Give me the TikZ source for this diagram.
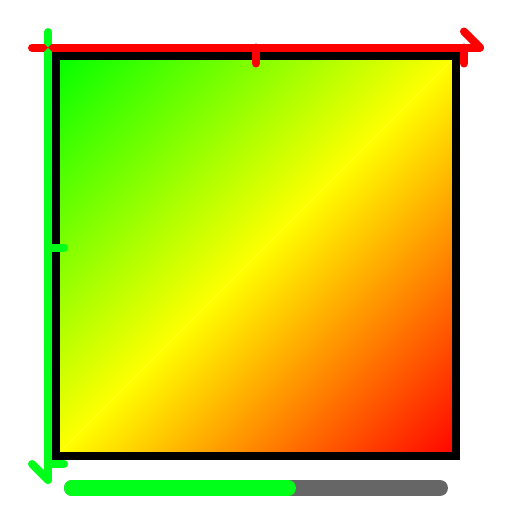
\documentclass[tikz,border=0pt]{standalone}
\usepackage{tikz}
\definecolor{axgreen}{HTML}{00FF19}
\definecolor{axred}{HTML}{FF0000}
\definecolor{gradgreen}{HTML}{00FF00}
\definecolor{gradyellow}{HTML}{FFFF00}
\definecolor{gradred}{HTML}{FF0000}
\definecolor{bargray}{HTML}{666666}
\tikzset{
  redaxis/.style={draw=axred, line width=0.16cm, line cap=round},
  greenaxis/.style={draw=axgreen, line width=0.16cm, line cap=round},
  frame/.style={draw=black, line width=0.16cm},
  barline/.style={line width=0.32cm, line cap=round}
}
\begin{document}
\begin{tikzpicture}[x=0.02cm, y=-0.02cm]
\useasboundingbox (0,0) rectangle (512,512);
% gradient square
\begin{scope}
  \clip (56,56) rectangle (456,456);
  \shade[transform canvas={rotate around={-45:(256,256)}}, left color=gradgreen, right color=gradyellow] (-29,-29) rectangle (256,541);
  \shade[transform canvas={rotate around={-45:(256,256)}}, left color=gradyellow, right color=gradred] (256,-29) rectangle (541,541);
\end{scope}
\draw[frame] (56,56) rectangle (456,456);
% coordinates
\coordinate (xo) at (32,47.5);
\coordinate (xe) at (480,47.5);
\coordinate (xb) at (464,31.5);
\coordinate (xt1a) at (256,47.5);
\coordinate (xt1b) at (256,63.5);
\coordinate (xt2a) at (464,47.5);
\coordinate (xt2b) at (464,63.5);
\coordinate (yo) at (48,32);
\coordinate (ye) at (48,480);
\coordinate (yb) at (32,464);
\coordinate (yt1a) at (48,247.5);
\coordinate (yt1b) at (64,247.5);
\coordinate (yt2a) at (48,464);
\coordinate (yt2b) at (64,464);
% axes
\draw[redaxis] (xo) -- (xe);
\draw[redaxis] (xb) -- (xe);
\draw[redaxis] (xt1a) -- (xt1b);
\draw[redaxis] (xt2a) -- (xt2b);
\draw[greenaxis] (yo) -- (ye);
\draw[greenaxis] (yb) -- (ye);
\draw[greenaxis] (yt1a) -- (yt1b);
\draw[greenaxis] (yt2a) -- (yt2b);
% crossing
\fill[axgreen] (44,43.5) rectangle (52,51.5);
\fill[axred] (44,43.5) -- (48,47.5) -- (44,51.5) -- cycle;
\fill[axred] (52,43.5) -- (48,47.5) -- (52,51.5) -- cycle;
% progress bar
\coordinate (ps) at (72,488);
\coordinate (pe) at (440,488);
\coordinate (pg) at (288,488);
\draw[barline, bargray] (ps) -- (pe);
\draw[barline, axgreen] (ps) -- (pg);
\end{tikzpicture}
\end{document}
